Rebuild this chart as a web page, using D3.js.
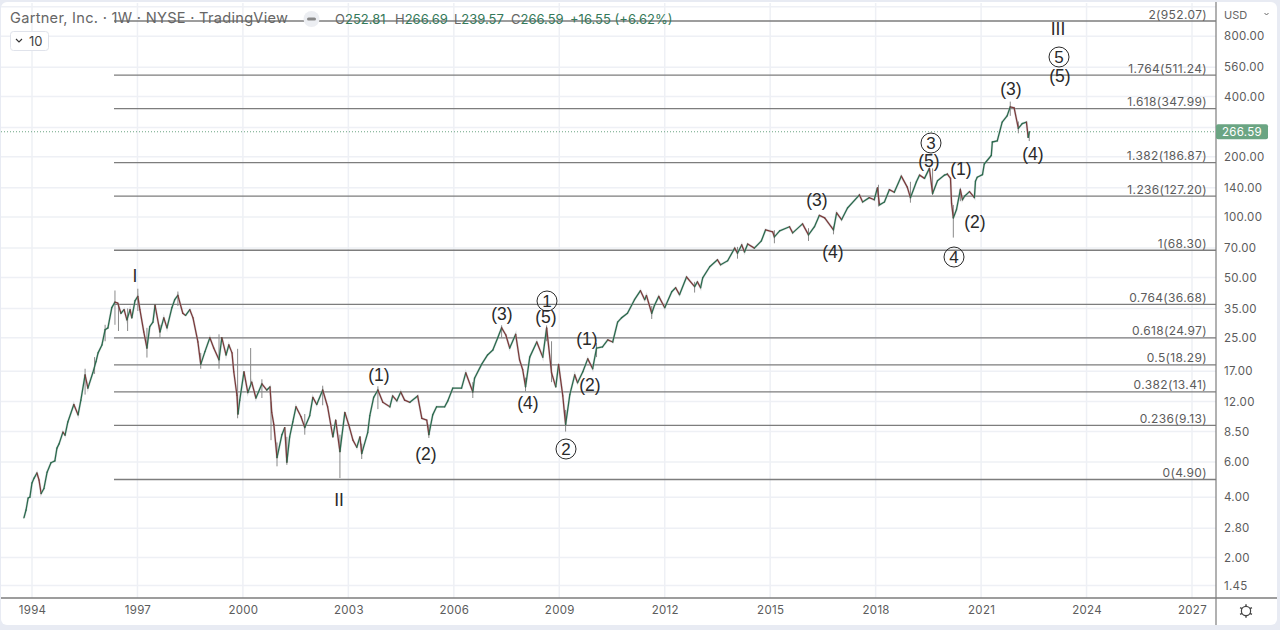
<!DOCTYPE html>
<html><head><meta charset="utf-8">
<script src="https://cdn.jsdelivr.net/npm/d3@7"></script>
<style>html,body{margin:0;padding:0;background:#e8ebf3;overflow:hidden}svg{display:block}text{font-family:Inter,"Liberation Sans",sans-serif}</style>
</head><body><svg id="c" width="1280" height="630"></svg>
<script>
const years=[1993.77,1993.83,1993.89,1993.94,1994.00,1994.06,1994.14,1994.20,1994.26,1994.34,1994.43,1994.54,1994.65,1994.71,1994.77,1994.88,1994.94,1995.02,1995.19,1995.31,1995.39,1995.51,1995.59,1995.73,1995.82,1995.88,1995.99,1996.08,1996.16,1996.27,1996.36,1996.44,1996.53,1996.62,1996.70,1996.79,1996.84,1996.93,1997.01,1997.07,1997.18,1997.27,1997.35,1997.44,1997.50,1997.64,1997.75,1997.84,1997.98,1998.06,1998.15,1998.29,1998.37,1998.49,1998.58,1998.72,1998.80,1998.92,1999.06,1999.17,1999.32,1999.40,1999.52,1999.60,1999.69,1999.74,1999.83,1999.86,1999.91,2000.03,2000.14,2000.25,2000.37,2000.54,2000.68,2000.77,2000.82,2000.88,2000.97,2001.11,2001.19,2001.25,2001.33,2001.42,2001.51,2001.65,2001.76,2001.90,2001.99,2002.10,2002.27,2002.41,2002.56,2002.64,2002.76,2002.90,2003.01,2003.13,2003.24,2003.33,2003.38,2003.55,2003.61,2003.72,2003.84,2003.98,2004.18,2004.26,2004.38,2004.49,2004.60,2004.75,2004.97,2005.09,2005.23,2005.29,2005.40,2005.51,2005.74,2005.83,2005.97,2006.22,2006.34,2006.54,2006.59,2006.79,2006.96,2007.11,2007.25,2007.36,2007.48,2007.59,2007.76,2007.87,2007.96,2008.04,2008.16,2008.36,2008.53,2008.64,2008.78,2008.90,2008.98,2009.10,2009.18,2009.30,2009.44,2009.52,2009.67,2009.81,2009.95,2010.06,2010.23,2010.38,2010.52,2010.66,2010.77,2010.94,2011.14,2011.31,2011.43,2011.48,2011.63,2011.71,2011.83,2012.00,2012.20,2012.31,2012.42,2012.62,2012.85,2012.93,2013.02,2013.08,2013.28,2013.50,2013.59,2013.79,2013.99,2014.07,2014.19,2014.27,2014.36,2014.55,2014.75,2014.87,2015.07,2015.12,2015.27,2015.55,2015.64,2015.92,2016.09,2016.26,2016.40,2016.55,2016.80,2016.89,2017.03,2017.20,2017.54,2017.63,2017.82,2017.96,2018.05,2018.11,2018.25,2018.39,2018.53,2018.73,2018.90,2018.99,2019.16,2019.25,2019.39,2019.53,2019.62,2019.76,2019.96,2020.04,2020.13,2020.16,2020.21,2020.30,2020.41,2020.47,2020.53,2020.67,2020.81,2020.84,2020.89,2021.04,2021.09,2021.29,2021.32,2021.46,2021.60,2021.74,2021.83,2021.94,2022.06,2022.17,2022.29,2022.34,2022.37];
const closes=[3.15,3.45,3.96,4.0,4.71,4.98,5.28,4.87,4.17,4.42,5.33,5.94,6.07,7.03,7.38,8.45,8.16,9.49,11.6,10.3,12.2,16.3,14.0,16.7,19.0,21.0,23.0,27.4,28.0,35.3,37.6,37.2,33.1,34.5,30.7,34.5,31.4,38.2,40.2,34.5,26.7,22.2,28.4,29.9,36.3,26.7,31.4,28.0,35.3,38.7,40.7,33.1,32.3,34.5,31.4,23.8,18.4,21.3,25.0,22.2,19.4,25.0,20.5,23.0,21.0,16.9,12.9,10.4,12.2,16.9,13.3,15.0,12.5,14.7,13.7,14.2,10.6,9.2,6.3,8.2,8.9,5.98,8.0,9.5,11.3,10.1,8.9,10.2,12.6,11.6,13.7,11.3,8.0,9.7,6.75,10.6,9.2,7.7,7.1,8.0,6.6,8.4,10.2,12.6,13.7,11.9,11.3,12.8,12.1,13.4,12.2,11.9,12.8,9.9,9.7,8.2,10.3,11.3,11.3,12.1,14.0,14.0,16.7,13.4,15.7,18.4,20.5,21.7,25.0,28.0,25.8,22.2,26.0,19.4,17.3,14.2,20.0,23.8,20.0,28.0,16.7,14.2,18.4,12.8,9.2,13.0,16.3,14.9,16.9,19.6,17.5,22.2,22.5,24.4,23.8,29.9,31.4,33.1,38.7,42.9,38.7,40.6,33.1,36.3,40.2,35.3,42.4,44.4,41.0,50.2,45.0,47.5,44.4,49.7,56.5,61.2,57.8,60.5,70.0,66.0,72.6,67.0,73.4,70.0,76.1,86.4,84.4,79.6,85.4,89.5,83.4,92.5,81.5,89.5,102,99,86.4,105,97,111,129,119,125,122,140,115,119,137,133,160,141,125,150,162,156,175,131,152,162,164,156,117,99,109,137,122,127,134,125,151,158,163,184,203,237,240,298,320,355,351,277,293,298,250,266.59];
const wickYears=[1995.51,1995.78,1996.08,1996.36,1996.46,1996.72,1997.01,1997.27,1997.64,1998.15,1998.80,1999.32,1999.85,2000.22,2000.54,2000.80,2000.97,2001.25,2001.76,2002.27,2002.76,2003.38,2003.84,2005.29,2006.54,2007.36,2008.04,2008.64,2008.78,2009.18,2010.06,2011.63,2012.85,2014.07,2015.12,2016.09,2016.80,2018.08,2018.99,2019.62,2020.21,2020.41,2021.83,2022.06,2022.37];
const wickHighs=[17.5,20,29,43,37,35,43.9,28,29,42.5,21,26,22,22.2,15.5,12,7.5,8,10.4,14.4,8.2,7.4,14.3,9.2,15,28.8,15.8,28.8,24,10.9,23.5,36,47.5,71,86,88,90,145,150,175,115,140,377,300,266.69];
const wickLows=[13,16.5,24,29,27,27,34,19.9,25,36,17.5,17.5,9.9,14.7,12.5,7.7,5.7,5.8,8.2,11.5,4.98,6.2,11,7.9,12.5,25,13.5,24,15,8.5,20,31,42,62,74,76,82,113,118,129,79,120,320,262,239.57];

const fibRatios=["0","0.236","0.382","0.5","0.618","0.764","1","1.236","1.382","1.618","1.764","2"];
const fibPrices=[4.90,9.13,13.41,18.29,24.97,36.68,68.30,127.20,186.87,347.99,511.24,952.07];
const priceTicks=[1.45,2,2.8,4,6,8.5,12,17,25,35,50,70,100,140,200,280,400,560,800,1120];
const hiddenPriceLabels=[280,1120];
const yearTicks=[1994,1997,2000,2003,2006,2009,2012,2015,2018,2021,2024,2027];
const lastPrice=266.59;
const waveText=["I","II","III","(1)","(2)","(3)","(5)","(4)","(1)","(2)","(3)","(4)","(5)","(1)","(2)","(3)","(4)","(5)"];
const waveX=[135,339,1058,379,426,502,546,528,587,590,817,833,929,961,975,1011,1033,1060];
const waveY=[276,500,29,375,454,314,317,403,339,385,200,252,161,169,222,89,154,76];
const circleText=["1","2","3","4","5"];
const circleX=[547,566,931,954,1059];
const circleY=[301,449,143,257,57];

const W=1280,H=630,axisX=1216,axisY=598;
const svg=d3.select("#c");
const x=d3.scaleLinear().domain([1994,2027]).range([32,1192]);
const y=d3.scaleLog().domain([4.9,952.07]).range([479.5,21]);

svg.append("rect").attr("x",1).attr("y",2).attr("width",W-4).attr("height",H-7).attr("rx",6).attr("fill","#fff");

const grid=svg.append("g").attr("stroke","#eef0f5").attr("stroke-width",1.5);
grid.selectAll(".v").data(yearTicks).join("line").attr("x1",d=>x(d)).attr("x2",d=>x(d)).attr("y1",3).attr("y2",axisY);
grid.selectAll(".h").data(priceTicks).join("line").attr("x1",1).attr("x2",axisX).attr("y1",d=>y(d)).attr("y2",d=>y(d));

svg.append("line").attr("x1",1).attr("x2",axisX).attr("y1",y(lastPrice)).attr("y2",y(lastPrice))
  .attr("stroke","#6ba583").attr("stroke-width",1).attr("stroke-dasharray","1 2");

const fib=svg.append("g");
fib.selectAll("line").data(fibPrices).join("line").attr("x1",114).attr("x2",axisX)
  .attr("y1",d=>y(d)).attr("y2",d=>y(d)).attr("stroke","#7d7d7d").attr("stroke-width",1.3);
fib.selectAll("text").data(fibPrices).join("text").attr("x",1207).attr("y",d=>y(d)-2.5).attr("text-anchor","end")
  .attr("font-size",12).attr("fill","#5c5c5c").attr("letter-spacing",0.35)
  .text((d,i)=>`${fibRatios[i]}(${d.toFixed(2)})`);

// soft haze under the price path
svg.append("path").datum(years).attr("fill","none").attr("stroke","#b9bcc2").attr("stroke-width",2.4).attr("opacity",0.45)
  .attr("d",d3.line().x(d=>x(d)).y((d,i)=>y(closes[i])));

svg.append("g").selectAll("line").data(wickYears).join("line")
  .attr("x1",d=>x(d)).attr("x2",d=>x(d)).attr("y1",(d,i)=>y(wickHighs[i])).attr("y2",(d,i)=>y(wickLows[i]))
  .attr("stroke","#8a8a8a").attr("stroke-width",1);

const seg=svg.append("g").attr("stroke-width",1.3).attr("stroke-linecap","round");
seg.selectAll("line").data(years.slice(1)).join("line")
  .attr("x1",(d,i)=>x(years[i])).attr("y1",(d,i)=>y(closes[i]))
  .attr("x2",d=>x(d)).attr("y2",(d,i)=>y(closes[i+1]))
  .attr("stroke",(d,i)=>closes[i+1]>=closes[i]?"#2b6a4d":"#7a3b3b");

const xAxis=svg.append("g").attr("transform",`translate(0,${axisY})`)
  .call(d3.axisBottom(x).tickValues(yearTicks).tickFormat(d3.format("d")).tickSize(0).tickPadding(8));
const yAxis=svg.append("g").attr("transform",`translate(${axisX},0)`)
  .call(d3.axisRight(y).tickValues(priceTicks.filter(d=>!hiddenPriceLabels.includes(d))).tickFormat(d3.format(".2f")).tickSize(0).tickPadding(8));
[xAxis,yAxis].forEach(a=>{a.select(".domain").remove();
  a.selectAll("text").attr("font-size",11.5).attr("fill","#5c5c5c").attr("letter-spacing",0.3)
   .style("font-family",'Inter,"Liberation Sans",sans-serif');});
svg.append("line").attr("x1",1).attr("x2",W-3).attr("y1",axisY).attr("y2",axisY).attr("stroke","#7d7d7d").attr("stroke-width",1.3);
svg.append("line").attr("x1",axisX).attr("x2",axisX).attr("y1",2).attr("y2",625).attr("stroke","#7d7d7d").attr("stroke-width",1.2);

svg.append("rect").attr("x",axisX).attr("y",y(lastPrice)-7.5).attr("width",52).attr("height",15).attr("rx",2).attr("fill","#6ba583");
svg.append("text").attr("x",1242).attr("y",y(lastPrice)+4).attr("text-anchor","middle").attr("font-size",11.5).attr("fill","#fff").attr("letter-spacing",0.3).text(lastPrice.toFixed(2));

svg.append("text").attr("x",1224).attr("y",19).attr("font-size",11).attr("fill","#666").text("USD");
svg.append("path").attr("d","M1264.5 13l2 2 2-2").attr("fill","none").attr("stroke","#666").attr("stroke-width",1);

const gear=svg.append("g").attr("transform","translate(1246,611)").attr("stroke","#444").attr("fill","none");
gear.append("circle").attr("r",4.6).attr("stroke-width",1.2);
d3.range(0,360,60).forEach(a=>gear.append("line").attr("y1",-4.6).attr("y2",-6.8).attr("transform",`rotate(${a})`).attr("stroke-width",1.4));

const head=svg.append("g");
head.append("text").attr("x",10).attr("y",23).attr("font-size",14.6).attr("fill","#666").attr("textLength",278).text("Gartner, Inc. · 1W · NYSE · TradingView");
head.append("circle").attr("cx",311.5).attr("cy",19).attr("r",8).attr("fill","#eceef2");
head.append("rect").attr("x",307).attr("y",17.5).attr("width",9).attr("height",3).attr("rx",1.5).attr("fill","#888");
const ohlcLabels=["O","H","L","C"],ohlcValues=["252.81","266.69","239.57","266.59"];
const ohlcX=[335,395,454,511];
ohlcLabels.forEach((l,i)=>{
  const t=head.append("text").attr("x",ohlcX[i]).attr("y",23.5).attr("font-size",13);
  t.append("tspan").attr("fill","#666").text(l);
  t.append("tspan").attr("fill","#35795a").text(ohlcValues[i]);
});
head.append("text").attr("x",570).attr("y",23.5).attr("font-size",13).attr("fill","#35795a").text("+16.55 (+6.62%)");

svg.append("rect").attr("x",10.5).attr("y",31.5).attr("width",38).attr("height",19).attr("rx",3).attr("fill","#fff").attr("stroke","#e0e3eb");
svg.append("path").attr("d","M16 39l3 3 3-3").attr("fill","none").attr("stroke","#333").attr("stroke-width",1.1);
svg.append("text").attr("x",29).attr("y",46).attr("font-size",13).attr("fill","#444").text("10");

svg.append("g").selectAll("text").data(waveText).join("text")
  .attr("x",(d,i)=>waveX[i]).attr("y",(d,i)=>waveY[i]+6).attr("text-anchor","middle")
  .attr("font-size",17.5).attr("fill","#2a2a2a").style("font-family",'"Liberation Sans",sans-serif').text(d=>d);
const circ=svg.append("g").selectAll("g").data(circleText).join("g").attr("transform",(d,i)=>`translate(${circleX[i]},${circleY[i]})`);
circ.append("circle").attr("r",10).attr("fill","none").attr("stroke","#2a2a2a").attr("stroke-width",1);
circ.append("text").attr("y",6).attr("text-anchor","middle").attr("font-size",17).attr("fill","#2a2a2a").style("font-family",'"Liberation Sans",sans-serif').text(d=>d);
</script></body></html>
